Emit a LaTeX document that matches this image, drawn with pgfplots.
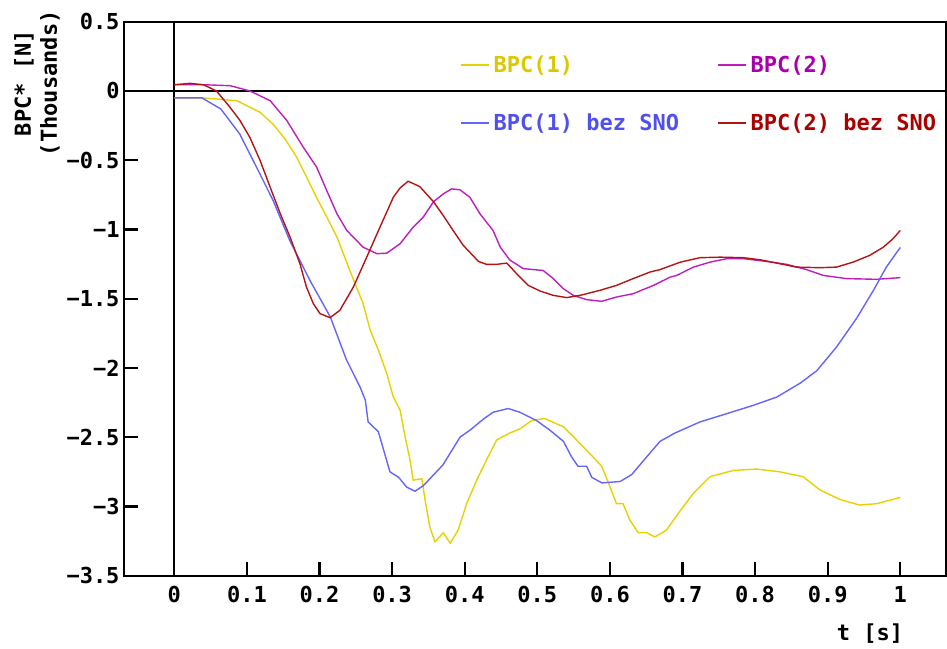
\documentclass[border=0pt]{standalone}
\usepackage{fontspec}
\setmainfont{DejaVu Sans Mono}
\usepackage{pgfplots}
\pgfplotsset{compat=1.18}
\definecolor{colY}{RGB}{230,210,0}
\definecolor{colYt}{RGB}{220,200,0}
\definecolor{colM}{RGB}{190,30,190}
\definecolor{colMt}{RGB}{170,0,170}
\definecolor{colB}{RGB}{100,100,255}
\definecolor{colBt}{RGB}{80,80,240}
\definecolor{colR}{RGB}{180,20,20}
\definecolor{colRt}{RGB}{170,0,0}
\newcommand{\cf}{\bfseries\fontsize{22}{26}\selectfont}
\begin{document}
\begin{tikzpicture}
\begin{axis}[
  scale only axis, width=822pt, height=554pt,
  xmin=-0.0693, xmax=1.063, ymin=-3.5, ymax=0.5,
  axis line style={line width=1.8pt,black},
  tick align=inside,
  major tick length=14pt,
  xtick style={line width=2.2pt, black},
  ytick style={line width=2.2pt, black},
  xtick pos=bottom, ytick pos=left,
  xtick={0,0.1,0.2,0.3,0.4,0.5,0.6,0.7,0.8,0.9,1},
  xticklabels={0,0.1,0.2,0.3,0.4,0.5,0.6,0.7,0.8,0.9,1},
  ytick={-3.5,-3,-2.5,-2,-1.5,-1,-0.5,0,0.5},
  yticklabels={−3.5,−3,−2.5,−2,−1.5,−1,−0.5,0,0.5},
  ticklabel style={font=\cf},
  xticklabel style={yshift=-7pt},
  yticklabel style={xshift=-1pt},
  xlabel={t [s]},
  xlabel style={font=\cf, at={(rel axis cs:0.9075,-0.104)}, anchor=center},
  ylabel={BPC* [N]\\(Thousands)},
  ylabel style={font=\cf, align=center, at={(rel axis cs:-0.106,0.889)}, anchor=center, rotate=0},
  legend columns=2,
  legend cell align=left,
  legend image code/.code={\draw[#1, line width=1.5pt] (0pt,0pt) -- (28pt,0pt);},
  legend style={draw=none, fill=none, font=\cf, at={(rel axis cs:0.4075,0.9440)}, anchor=north west,
    row sep=36pt, inner sep=1pt, /tikz/column 2/.style={column sep=34pt},
    nodes={inner xsep=4pt}},
  every axis plot/.append style={line width=1.4pt},
]
\addplot[black, line width=2pt, forget plot] coordinates {(0,-3.5) (0,0.5)};
\addplot[black, line width=1.6pt, forget plot] coordinates {(-0.0693,0) (1.063,0)};

\pgfplotsinvokeforeach{0.1,0.2,0.3,0.4,0.5,0.6,0.7,0.8,0.9,1}{
  \fill[black] ([xshift=-1.1pt]axis cs:#1,-3.5) rectangle ([xshift=1.1pt,yshift=14pt]axis cs:#1,-3.5);
}
\pgfplotsinvokeforeach{-3,-2.5,-2,-1.5,-1,-0.5}{
  \fill[black] ([yshift=-1.1pt]axis cs:-0.0693,#1) rectangle ([yshift=1.1pt,xshift=14pt]axis cs:-0.0693,#1);
}

\addplot[colY] coordinates {
(0,-0.05)(0.038,-0.05)(0.086,-0.07)(0.118,-0.154)(0.136,-0.24)(0.1525,-0.346)(0.1686,-0.479)(0.182,-0.62)(0.196,-0.77)(0.21,-0.91)(0.224,-1.055)(0.242,-1.30)(0.26,-1.535)(0.27,-1.73)(0.281,-1.87)(0.2926,-2.04)(0.3017,-2.21)(0.311,-2.305)(0.318,-2.50)(0.3247,-2.665)(0.329,-2.81)(0.341,-2.80)(0.3453,-2.95)(0.352,-3.15)(0.359,-3.255)(0.3705,-3.19)(0.38,-3.265)(0.391,-3.17)(0.4027,-2.98)(0.4165,-2.81)(0.43,-2.665)(0.444,-2.52)(0.462,-2.47)(0.476,-2.44)(0.492,-2.38)(0.51,-2.365)(0.536,-2.425)(0.554,-2.52)(0.5726,-2.62)(0.5887,-2.71)(0.598,-2.83)(0.609,-2.98)(0.618,-2.98)(0.6277,-3.10)(0.639,-3.19)(0.651,-3.19)(0.662,-3.22)(0.678,-3.17)(0.697,-3.03)(0.715,-2.905)(0.738,-2.785)(0.77,-2.74)(0.802,-2.73)(0.834,-2.75)(0.866,-2.785)(0.889,-2.88)(0.917,-2.95)(0.944,-2.99)(0.9675,-2.98)(1.0,-2.935)
};
\addlegendentry[text=colYt]{BPC(1)}

\addplot[colM] coordinates {
(0,0.045)(0.04,0.045)(0.077,0.038)(0.104,0.0)(0.132,-0.07)(0.155,-0.214)(0.1777,-0.407)(0.196,-0.55)(0.21,-0.72)(0.224,-0.887)(0.2375,-1.007)(0.26,-1.128)(0.279,-1.175)(0.2926,-1.171)(0.311,-1.103)(0.329,-0.983)(0.343,-0.91)(0.357,-0.80)(0.3705,-0.743)(0.382,-0.707)(0.3935,-0.714)(0.407,-0.767)(0.421,-0.887)(0.439,-1.007)(0.449,-1.128)(0.462,-1.22)(0.4807,-1.283)(0.508,-1.296)(0.522,-1.355)(0.536,-1.428)(0.5496,-1.476)(0.568,-1.507)(0.5887,-1.519)(0.609,-1.488)(0.632,-1.464)(0.66,-1.404)(0.683,-1.344)(0.692,-1.332)(0.715,-1.272)(0.738,-1.236)(0.761,-1.211)(0.784,-1.211)(0.816,-1.231)(0.8435,-1.252)(0.871,-1.29)(0.894,-1.332)(0.926,-1.355)(0.9675,-1.36)(1.0,-1.348)
};
\addlegendentry[text=colMt]{BPC(2)}

\addplot[colB] coordinates {
(0,-0.05)(0.038,-0.05)(0.064,-0.13)(0.09,-0.31)(0.118,-0.60)(0.136,-0.79)(0.159,-1.08)(0.187,-1.37)(0.2147,-1.63)(0.237,-1.94)(0.256,-2.14)(0.263,-2.23)(0.267,-2.39)(0.281,-2.46)(0.297,-2.75)(0.309,-2.79)(0.32,-2.86)(0.3315,-2.89)(0.343,-2.85)(0.37,-2.70)(0.3935,-2.50)(0.407,-2.45)(0.4256,-2.37)(0.439,-2.32)(0.46,-2.293)(0.476,-2.32)(0.499,-2.38)(0.5175,-2.45)(0.536,-2.53)(0.547,-2.64)(0.556,-2.71)(0.568,-2.71)(0.575,-2.79)(0.589,-2.83)(0.614,-2.82)(0.63,-2.77)(0.651,-2.64)(0.669,-2.53)(0.6896,-2.47)(0.724,-2.39)(0.761,-2.33)(0.7975,-2.27)(0.83,-2.21)(0.862,-2.11)(0.885,-2.02)(0.912,-1.85)(0.94,-1.64)(0.963,-1.44)(0.981,-1.27)(1.0,-1.13)
};
\addlegendentry[text=colBt]{BPC(1) bez SNO}

\addplot[colR] coordinates {
(0,0.045)(0.0216,0.055)(0.04,0.045)(0.058,0.0)(0.0767,-0.118)(0.0905,-0.214)(0.104,-0.335)(0.118,-0.50)(0.132,-0.695)(0.146,-0.887)(0.1594,-1.055)(0.173,-1.247)(0.182,-1.416)(0.1915,-1.536)(0.2007,-1.608)(0.2145,-1.637)(0.228,-1.584)(0.2466,-1.416)(0.265,-1.2)(0.2833,-0.983)(0.3017,-0.767)(0.311,-0.70)(0.322,-0.652)(0.338,-0.69)(0.357,-0.80)(0.3705,-0.90)(0.384,-1.007)(0.398,-1.115)(0.419,-1.231)(0.43,-1.252)(0.444,-1.252)(0.458,-1.243)(0.4716,-1.32)(0.4876,-1.404)(0.504,-1.445)(0.522,-1.476)(0.5405,-1.492)(0.5588,-1.476)(0.586,-1.44)(0.609,-1.404)(0.632,-1.355)(0.655,-1.308)(0.669,-1.29)(0.697,-1.236)(0.724,-1.204)(0.752,-1.2)(0.784,-1.204)(0.807,-1.219)(0.83,-1.243)(0.857,-1.272)(0.889,-1.276)(0.912,-1.272)(0.935,-1.236)(0.958,-1.187)(0.9766,-1.128)(0.99,-1.067)(1.0,-1.007)
};
\addlegendentry[text=colRt]{BPC(2) bez SNO}

\coordinate (BL) at (rel axis cs:-0.1509,-0.1309);
\coordinate (TR) at (rel axis cs:1.0012,1.0392);
\end{axis}
\path (BL) rectangle (TR);
\end{tikzpicture}
\end{document}
